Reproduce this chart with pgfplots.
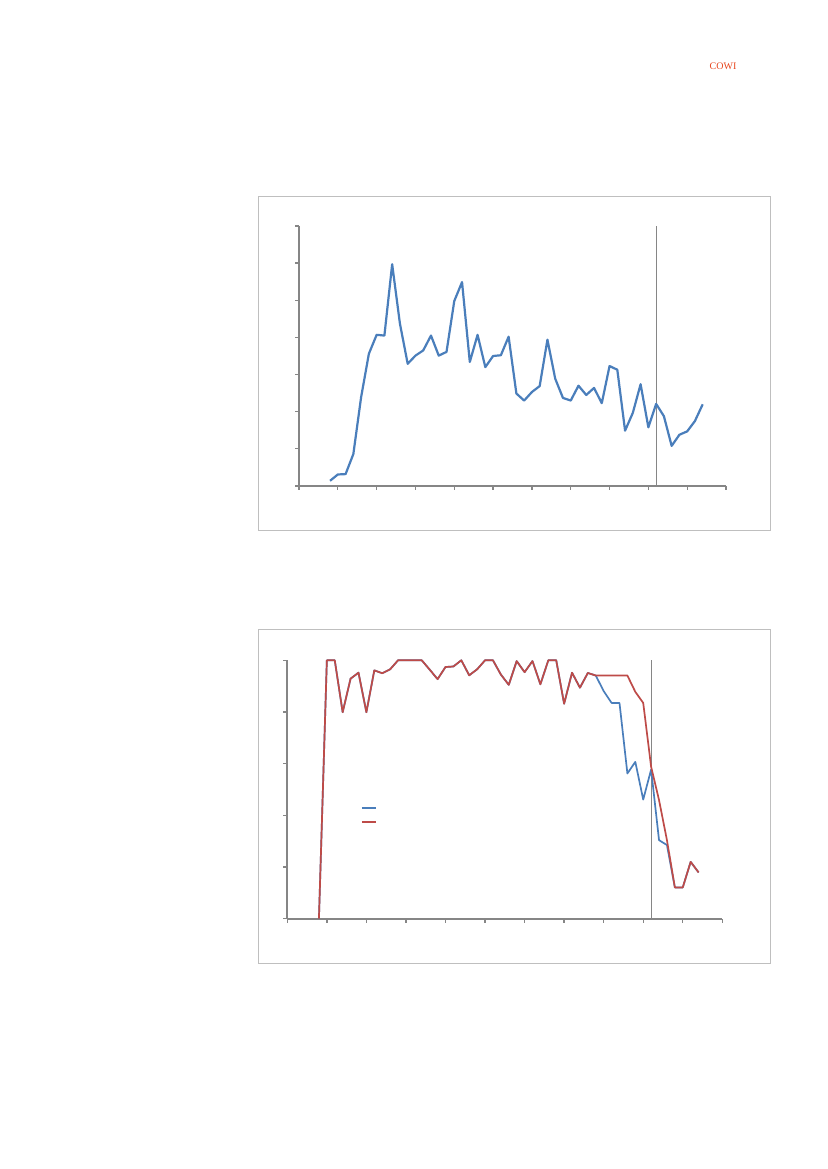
\documentclass[border=0pt]{standalone}
\usepackage{pgfplots}
\pgfplotsset{compat=1.18}
\usepackage{fontspec}
\newfontfamily\cowifont{Liberation Serif}
\definecolor{axgray}{HTML}{868686}
\definecolor{framegray}{HTML}{BFBFBF}
\definecolor{xlblue}{HTML}{4A7EBB}
\definecolor{xlred}{HTML}{BE4B48}
\definecolor{cowired}{HTML}{E8461E}
\pgfplotsset{myaxis/.style={
  scale only axis, axis lines*=left,
  axis line style={draw=axgray, line width=2pt, -},
  every outer x axis line/.append style={draw=axgray, line width=2pt},
  every outer y axis line/.append style={draw=axgray, line width=2pt},
  tick align=outside, major tick length=4pt,
  tick style={draw=axgray, line width=1.3pt},
  xticklabels={}, yticklabels={},
  enlargelimits=false, clip=false,
  xmin=0, xmax=55, xtick={0,5,...,55}}}
\begin{document}
\begin{tikzpicture}
\path[fill=white] (0pt,0pt) rectangle (827pt,1169pt);
\node[text=cowired, font=\cowifont\fontsize{10}{11}\selectfont] at (723pt,1103pt) {COWI};
% frames
\draw[framegray, line width=1pt] (258pt,{1169pt-197pt}) rectangle (770pt,{1169pt-531pt});
\draw[framegray, line width=1pt] (258pt,{1169pt-630pt}) rectangle (770pt,{1169pt-964pt});
% chart 1
\begin{axis}[myaxis, anchor=south west, at={(299pt,683pt)},
  width=427pt, height=260pt, ymin=0, ymax=7, ytick={0,1,...,7}]
\addplot[draw=axgray, line width=1pt] coordinates {(46,0) (46,7)};
\addplot[draw=xlblue, line width=2.2pt, line join=round] coordinates {
(4,0.14) (5,0.31) (6,0.32) (7,0.86) (8,2.39) (9,3.56) (10,4.07) (11,4.05) (12,5.97)
(13,4.37) (14,3.29) (15,3.51) (16,3.65) (17,4.05) (18,3.51) (19,3.61) (20,4.98)
(21,5.49) (22,3.34) (23,4.07) (24,3.20) (25,3.50) (26,3.52) (27,4.02) (28,2.49)
(29,2.30) (30,2.53) (31,2.69) (32,3.94) (33,2.89) (34,2.37) (35,2.30) (36,2.70)
(37,2.45) (38,2.64) (39,2.23) (40,3.23) (41,3.13) (42,1.49) (43,1.97) (44,2.74)
(45,1.58) (46,2.21) (47,1.88) (48,1.08) (49,1.38) (50,1.47) (51,1.75) (52,2.20)};
\end{axis}
% chart 2
\begin{axis}[myaxis, anchor=south west, at={(287.3pt,250.3pt)},
  width=435pt, height=258.4pt, ymin=0, ymax=100, ytick={0,20,...,100},
  legend style={draw=none, fill=none, at={(axis cs:9.3,40.1)}, anchor=west,
    inner sep=0pt, row sep=3.5pt, nodes={inner sep=0pt, minimum height=10pt}},
  legend cell align=left,
  legend image code/.code={\draw[#1] (0pt,0pt) -- (14pt,0pt);}]
\addplot[draw=axgray, line width=0.8pt, forget plot] coordinates {(46,0) (46,100)};
\addplot[draw=xlblue, line width=1.7pt, line join=round] coordinates {
(4,0) (5,100) (6,100) (7,79.9) (8,92.9) (9,95.2) (10,79.9) (11,96.1) (12,95.0)
(13,96.5) (14,100) (15,100) (16,100) (17,100) (18,96.4) (19,92.7) (20,97.4)
(21,97.6) (22,100) (23,94.2) (24,96.5) (25,100) (26,100) (27,94.5) (28,90.5)
(29,99.7) (30,95.4) (31,99.7) (32,90.7) (33,100) (34,100) (35,83.2) (36,95.2)
(37,89.4) (38,95.1) (39,94.1) (40,88.1) (41,83.5) (42,83.5) (43,56.2) (44,60.7)
(45,46.1) (46,57.7) (47,30.4) (48,28.5) (49,12.1) (50,12.1) (51,22.0) (52,17.9)};
\addlegendentry{}
\addplot[draw=xlred, line width=1.7pt, line join=round] coordinates {
(4,0) (5,100) (6,100) (7,79.9) (8,92.9) (9,95.2) (10,79.9) (11,96.1) (12,95.0)
(13,96.5) (14,100) (15,100) (16,100) (17,100) (18,96.4) (19,92.7) (20,97.4)
(21,97.6) (22,100) (23,94.2) (24,96.5) (25,100) (26,100) (27,94.5) (28,90.5)
(29,99.7) (30,95.4) (31,99.7) (32,90.7) (33,100) (34,100) (35,83.2) (36,95.2)
(37,89.4) (38,95.1) (39,94.1) (40,94.1) (41,94.1) (42,94.1) (43,94.1) (44,87.8)
(45,83.5) (46,58.8) (47,45.9) (48,30.4) (49,12.1) (50,12.1) (51,22.0) (52,17.9)};
\addlegendentry{}
\end{axis}
\end{tikzpicture}
\end{document}
